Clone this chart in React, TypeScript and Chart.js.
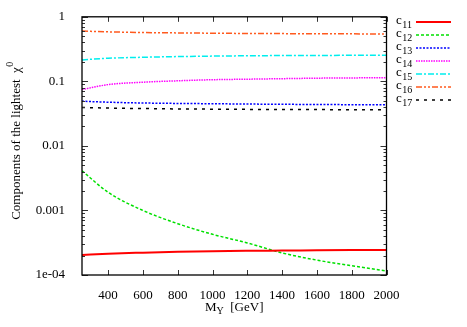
import React, { useEffect, useRef } from "react";
import { Chart, registerables } from "chart.js";

Chart.register(...registerables);

const massValues = [250, 400, 600, 800, 1000, 1200, 1400, 1600, 1800, 2000];
const c11 = [0.000205, 0.000214, 0.000222, 0.000229, 0.000234, 0.000237, 0.000239, 0.000241, 0.000243, 0.000245];
const c12 = [0.00412, 0.00191, 0.001, 0.000624, 0.000427, 0.000314, 0.00022, 0.00017, 0.000139, 0.000115];
const c13 = [0.0492, 0.0475, 0.0462, 0.0455, 0.045, 0.0445, 0.0441, 0.0438, 0.0435, 0.0433];
const c14 = [0.0745, 0.089, 0.097, 0.102, 0.106, 0.108, 0.11, 0.112, 0.113, 0.114];
const c15 = [0.215, 0.228, 0.236, 0.242, 0.246, 0.249, 0.251, 0.252, 0.253, 0.254];
const c16 = [0.6, 0.585, 0.57, 0.563, 0.557, 0.552, 0.549, 0.546, 0.544, 0.542];
const c17 = [0.0394, 0.0386, 0.0379, 0.0374, 0.0371, 0.0368, 0.0366, 0.0365, 0.0364, 0.0363];

const seriesNames = ["11", "12", "13", "14", "15", "16", "17"];
const seriesValues = [c11, c12, c13, c14, c15, c16, c17];
const seriesColors = ["#ff0000", "#00e000", "#0000ff", "#ff00ff", "#00eeee", "#ff5a1e", "#000000"];
const seriesDashes: number[][] = [[], [3, 2], [2, 1.5], [1.5, 1], [6, 2, 2, 2], [6, 2, 2, 2, 2, 2], [3, 5]];
const seriesWidths = [2, 1.5, 1.5, 1.5, 1.5, 1.5, 1.5];

const xTickValues = [400, 600, 800, 1000, 1200, 1400, 1600, 1800, 2000];
const yDecades = [1e-4, 1e-3, 1e-2, 1e-1, 1];
const yTickLabels = ["1e-04", "0.001", "0.01", "0.1", "1"];

const SERIF = "'Liberation Serif', 'DejaVu Serif', serif";
const MAIN = 13;
const SMALL = 10;

const decorPlugin = {
  id: "decor",
  afterDraw(chart: any) {
    const ctx = chart.ctx as CanvasRenderingContext2D;
    const { left, right, top, bottom } = chart.chartArea;
    const xs = chart.scales.x;
    const ys = chart.scales.y;
    ctx.save();
    // ticks
    ctx.strokeStyle = "#333";
    ctx.lineWidth = 1;
    ctx.setLineDash([]);
    ctx.beginPath();
    for (const v of xTickValues) {
      const px = Math.round(xs.getPixelForValue(v)) + 0.5;
      ctx.moveTo(px, bottom);
      ctx.lineTo(px, bottom - 5);
      ctx.moveTo(px, top);
      ctx.lineTo(px, top + 5);
    }
    for (const d of yDecades) {
      for (let m = 1; m <= 9; m++) {
        const v = m * d;
        if (v > 1.0000001) break;
        const py = Math.round(ys.getPixelForValue(v)) + 0.5;
        const len = m === 1 ? 6 : 3;
        ctx.moveTo(left, py);
        ctx.lineTo(left + len, py);
        ctx.moveTo(right, py);
        ctx.lineTo(right - len, py);
      }
    }
    ctx.stroke();
    // frame
    ctx.strokeStyle = "#000";
    ctx.lineWidth = 1.3;
    ctx.strokeRect(left, top, right - left, bottom - top);

    // legend
    ctx.fillStyle = "#000";
    ctx.textBaseline = "alphabetic";
    ctx.textAlign = "left";
    seriesNames.forEach((name, i) => {
      const yy = 22 + i * 13;
      ctx.font = `${MAIN}px ${SERIF}`;
      ctx.fillText("c", 396, yy + 2);
      const cw = ctx.measureText("c").width;
      ctx.font = `${SMALL}px ${SERIF}`;
      ctx.fillText(name, 396 + cw + 0.5, yy + 6);
      ctx.strokeStyle = seriesColors[i];
      ctx.lineWidth = seriesWidths[i];
      ctx.setLineDash(seriesDashes[i]);
      ctx.beginPath();
      ctx.moveTo(416, yy);
      ctx.lineTo(451, yy);
      ctx.stroke();
    });
    ctx.setLineDash([]);

    // x title
    const cx = (left + right) / 2;
    ctx.font = `${MAIN}px ${SERIF}`;
    const wM = ctx.measureText("M").width;
    const wRest = ctx.measureText("  [GeV]").width;
    ctx.font = `${SMALL}px ${SERIF}`;
    const wY = ctx.measureText("Y").width;
    const sx = cx - (wM + wY + wRest) / 2;
    ctx.font = `${MAIN}px ${SERIF}`;
    ctx.fillText("M", sx, 310.5);
    ctx.font = `${SMALL}px ${SERIF}`;
    ctx.fillText("Y", sx + wM, 313.5);
    ctx.font = `${MAIN}px ${SERIF}`;
    ctx.fillText("  [GeV]", sx + wM + wY, 310.5);

    // y title
    ctx.save();
    ctx.translate(20, 141);
    ctx.rotate(-Math.PI / 2);
    const main = "Components of the lightest  \u03c7";
    ctx.font = `${MAIN}px ${SERIF}`;
    const wMain = ctx.measureText(main).width;
    ctx.font = `${SMALL}px ${SERIF}`;
    const wSup = ctx.measureText("0").width;
    const sy0 = -(wMain + wSup) / 2;
    ctx.font = `${MAIN}px ${SERIF}`;
    ctx.fillText(main, sy0, 0);
    ctx.font = `${SMALL}px ${SERIF}`;
    ctx.fillText("0", sy0 + wMain + 0.5, -7);
    ctx.restore();

    ctx.restore();
  },
};

export default function App() {
  const canvasRef = useRef<HTMLCanvasElement | null>(null);

  useEffect(() => {
    document.body.style.margin = "0";
    const canvas = canvasRef.current;
    if (!canvas) return;
    const chart = new Chart(canvas, {
      type: "line",
      data: {
        datasets: seriesValues.map((vals, i) => ({
          label: "c" + seriesNames[i],
          data: vals.map((v, k) => ({ x: massValues[k], y: v })),
          borderColor: seriesColors[i],
          backgroundColor: seriesColors[i],
          borderWidth: seriesWidths[i],
          borderDash: seriesDashes[i],
          pointRadius: 0,
          cubicInterpolationMode: "monotone" as const,
          fill: false,
        })),
      },
      options: {
        animation: false,
        responsive: false,
        devicePixelRatio: 1,
        layout: { padding: { left: 0, right: 80.5, top: 15, bottom: 0 } },
        plugins: {
          legend: { display: false },
          tooltip: { enabled: false },
        },
        scales: {
          x: {
            type: "linear",
            min: 250,
            max: 2000,
            grid: { display: false },
            border: { display: false },
            afterBuildTicks: (scale: any) => {
              scale.ticks = xTickValues.map((v) => ({ value: v }));
            },
            afterFit: (scale: any) => {
              scale.height = 52;
            },
            ticks: {
              autoSkip: false,
              maxRotation: 0,
              padding: 5,
              color: "#000",
              font: { family: SERIF, size: 13 },
              callback: (v: any) => String(v),
            },
          },
          y: {
            type: "logarithmic",
            min: 1e-4,
            max: 1,
            grid: { display: false },
            border: { display: false },
            afterBuildTicks: (scale: any) => {
              scale.ticks = yDecades.map((v) => ({ value: v }));
            },
            afterFit: (scale: any) => {
              scale.width = 82;
            },
            ticks: {
              autoSkip: false,
              padding: 9,
              color: "#000",
              font: { family: SERIF, size: 13 },
              callback: (v: any) => {
                const idx = yDecades.findIndex((d) => Math.abs(d - Number(v)) / d < 1e-6);
                return idx >= 0 ? yTickLabels[idx] : "";
              },
            },
          },
        },
      },
      plugins: [decorPlugin],
    });
    return () => chart.destroy();
  }, []);

  return (
    <div style={{ position: "fixed", left: 0, top: 0, width: 467, height: 327, background: "#fff" }}>
      <canvas ref={canvasRef} width={467} height={327} style={{ display: "block" }} />
    </div>
  );
}
